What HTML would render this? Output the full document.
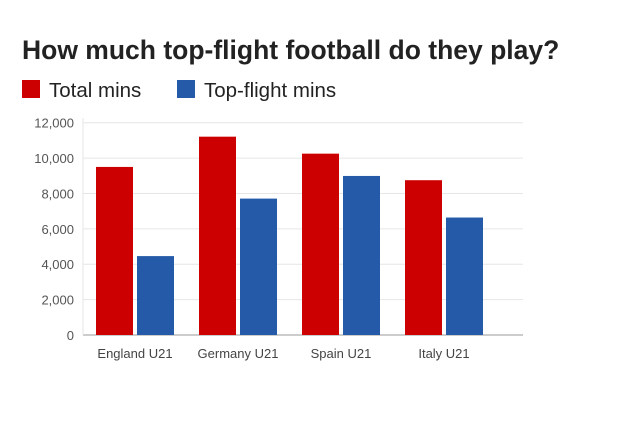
<!DOCTYPE html>
<html><head><meta charset="utf-8"><style>
body{margin:0;background:#fff;width:641px;height:430px;overflow:hidden;font-family:"Liberation Sans",Arial,sans-serif}
</style></head><body>
<svg width="641" height="430">
<text x="22" y="59" font-size="26.5" font-weight="bold" fill="#222">How much top-flight football do they play?</text>
<g>
<rect x="22" y="80" width="18" height="18" fill="#cc0000"/>
<text x="49" y="97" font-size="20.5" fill="#222">Total mins</text>
<rect x="177" y="80" width="18" height="18" fill="#245aa8"/>
<text x="204" y="97" font-size="20.5" fill="#222">Top-flight mins</text>
</g>
<g id="plot"></g>
</svg>
<script>
const categories=["England U21","Germany U21","Spain U21","Italy U21"];
const totalMins=[9500,11210,10250,8750];
const topFlightMins=[4460,7710,8990,6640];
const ticks=[0,2000,4000,6000,8000,10000,12000];
const ns="http://www.w3.org/2000/svg";
const g=document.getElementById('plot');
const y0=335,pxPer=(335-122.7)/12000;
const y=v=>y0-v*pxPer;
const x=i=>135+i*103;
function mk(t,a){const e=document.createElementNS(ns,t);for(const k in a)e.setAttribute(k,a[k]);g.appendChild(e);return e;}
ticks.forEach(t=>{
 if(t>0){const l=mk('line',{x1:83,x2:523,y1:y(t),y2:y(t),stroke:'#e6e6e6'});
 
 }
 const tx=mk('text',{x:74,y:y(t)+5,'text-anchor':'end','font-size':13,fill:'#555'});tx.textContent=t.toLocaleString('en-US');
 
 
});
const ax=mk('line',{x1:83,x2:523,y1:y0,y2:y0,stroke:'#999'});


const ay=mk('line',{x1:83,x2:83,y1:118,y2:y0,stroke:'#e6e6e6'});


categories.forEach((c,i)=>{
 const r=mk('rect',{x:x(i)-39,y:y(totalMins[i]),width:37,height:y0-y(totalMins[i]),fill:'#cc0000'});
 
 
 const b=mk('rect',{x:x(i)+2,y:y(topFlightMins[i]),width:37,height:y0-y(topFlightMins[i]),fill:'#245aa8'});
 
 
 const t=mk('text',{x:x(i),y:358,'text-anchor':'middle','font-size':13,fill:'#444'});t.textContent=c;
 
 
});
</script>
</body></html>
